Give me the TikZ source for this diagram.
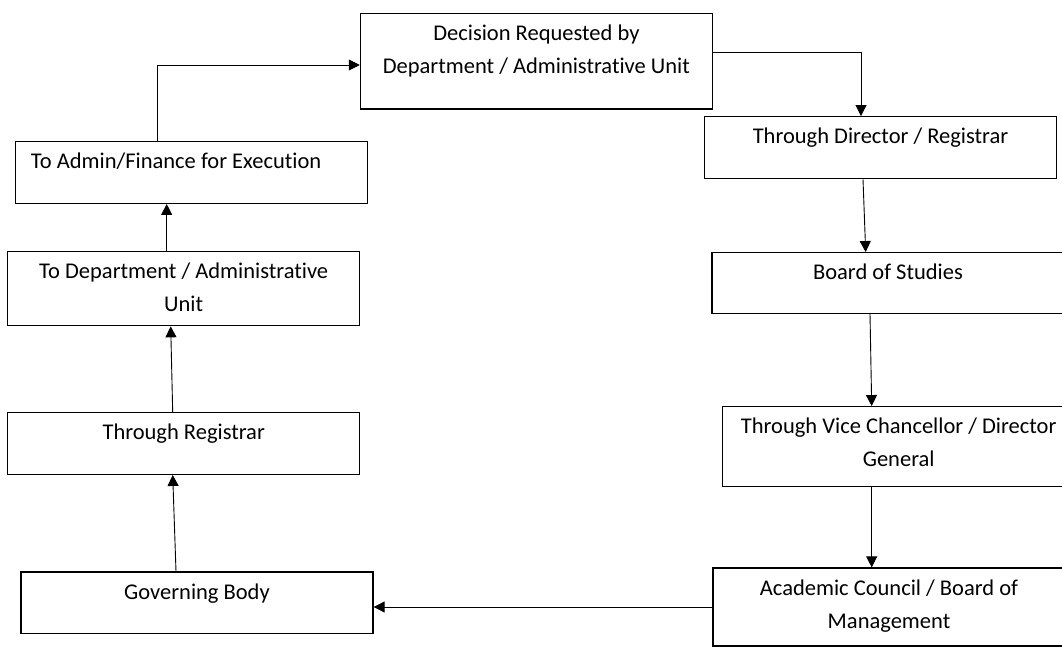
\documentclass[tikz,border=0pt]{standalone}
\usepackage{fontspec}
\setmainfont{Carlito}[Ligatures=NoCommon]
\usetikzlibrary{arrows.meta}
\newcommand{\widthbox}{352pt}
\tikzset{
    box/.style={draw, rectangle, line width=1.3pt, minimum width=\widthbox, inner sep=0pt},
    boxtext/.style={anchor=north, align=center, inner sep=0pt, yshift=-12pt, font=\fontsize{22.5}{33}\selectfont},
    flow/.style={line width=0.9pt, -{Triangle[length=11pt, width=11pt]}}
}
\begin{document}
\begin{tikzpicture}[x=1pt, y=-1pt]
    \useasboundingbox (0,0) rectangle (1062,647);
    \node[box, minimum height=95.7pt, label={[boxtext]north:{Decision Requested by\\Department / Administrative Unit}}] (dec) at (536.4,61.2) {};
    \node[box, minimum height=62pt, label={[boxtext]north:{Through Director / Registrar}}] (dir) at (880.5,147.7) {};
    \node[box, minimum height=60.6pt, label={[boxtext]north:{Board of Studies}}] (bos) at (888,283) {};
    \node[box, minimum height=80pt, label={[boxtext]north:{Through Vice Chancellor / Director\\General}}] (vc) at (898.7,446.7) {};
    \node[box, minimum height=78pt, label={[boxtext]north:{Academic Council / Board of\\Management}}] (ac) at (889,607) {};
    \node[box, minimum height=61.3pt, label={[boxtext]north:{Governing Body}}] (gov) at (197,602.7) {};
    \node[box, minimum height=61.6pt, label={[boxtext]north:{Through Registrar}}] (reg) at (183.7,443.5) {};
    \node[box, minimum height=74pt, label={[boxtext]north:{To Department / Administrative\\Unit}}] (dept) at (183.7,288.7) {};
    \node[box, minimum height=61.6pt, label={[boxtext, anchor=north west, xshift=15.7pt]north west:{To Admin/Finance for Execution}}] (fin) at (191.7,172.5) {};

    \draw[flow] ([xshift=-34pt]fin.north) |- ([yshift=-3.8pt]dec.west);
    \draw[flow] ([yshift=8.5pt]dec.east) -| ([xshift=-19.5pt]dir.north);
    \draw[flow] ([xshift=-17.5pt]dir.south) -- ([xshift=-22.3pt]bos.north);
    \draw[flow] ([xshift=-18pt]bos.south) -- ([xshift=-27pt]vc.north);
    \draw[flow] ([xshift=-27pt]vc.south) -- ([xshift=-17.3pt]ac.north);
    \draw[flow] (ac.west) -- (ac.west -| gov.east);
    \draw[flow] ([xshift=-21pt]gov.north) -- ([xshift=-11pt]reg.south);
    \draw[flow] ([xshift=-11pt]reg.north) -- ([xshift=-13pt]dept.south);
    \draw[flow] ([xshift=-17pt]dept.north) -- ([xshift=-25pt]fin.south);
\end{tikzpicture}
\end{document}
